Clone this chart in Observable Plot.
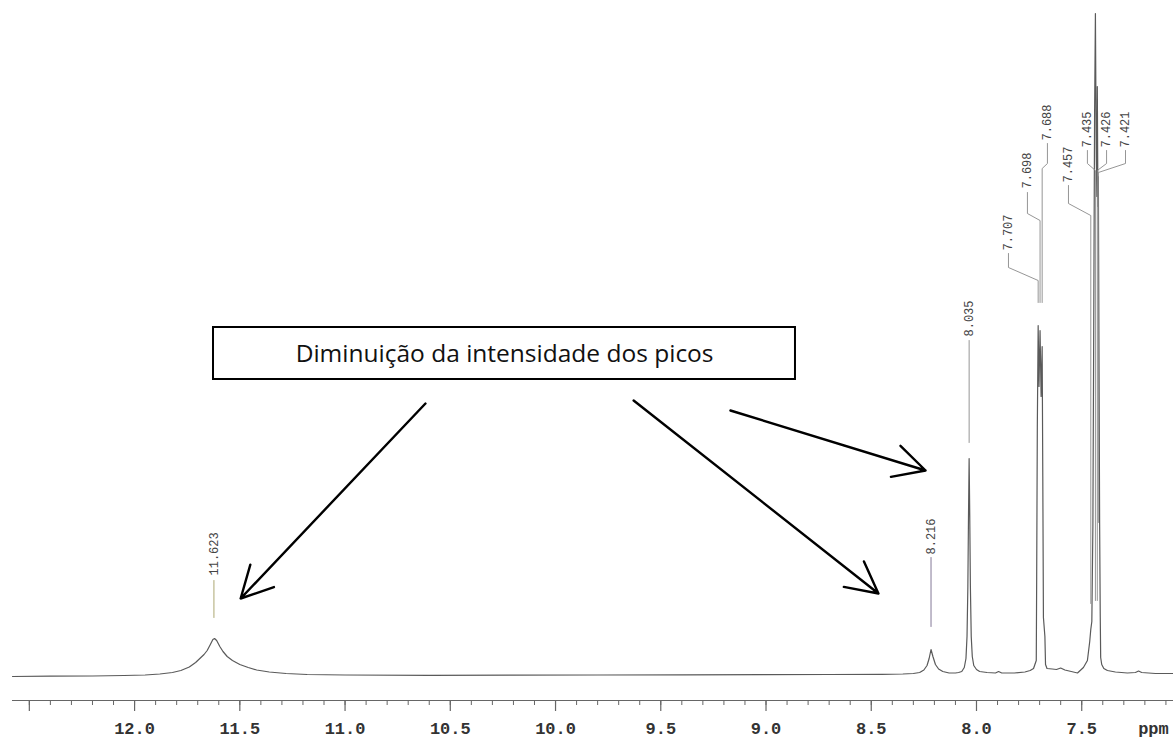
<!DOCTYPE html>
<html>
<head>
<meta charset="utf-8">
<script src="https://cdn.jsdelivr.net/npm/d3@7"></script>
<script src="https://cdn.jsdelivr.net/npm/@observablehq/plot@0.6"></script>
<style>
  html, body { margin: 0; padding: 0; background: #ffffff; }
  #chart svg { display: block; }
</style>
</head>
<body>
<div id="chart"></div>
<script>
// ---- Spectrum trace (chemical shift in ppm, intensity) ----
const specPpm = [
  12.58, 12.40, 12.20, 12.05, 11.95, 11.88, 11.82, 11.78, 11.74, 11.71, 11.69, 11.67, 11.655, 11.64, 11.628, 11.62,
  11.61, 11.595, 11.58, 11.56, 11.535, 11.50, 11.46, 11.42, 11.36, 11.28, 11.18, 11.00, 10.60, 10.20, 9.80, 9.40,
  9.00, 8.70, 8.45, 8.35, 8.30, 8.27, 8.25, 8.235, 8.225, 8.216, 8.207, 8.195, 8.18, 8.16, 8.13, 8.10,
  8.085, 8.07, 8.058, 8.05, 8.045, 8.041, 8.038, 8.035, 8.032, 8.029, 8.025, 8.02, 8.013, 8.00, 7.985, 7.95,
  7.91, 7.895, 7.88, 7.82, 7.77, 7.745, 7.729, 7.716, 7.714, 7.711, 7.707, 7.703, 7.698, 7.693, 7.688, 7.685,
  7.682, 7.675, 7.672, 7.665, 7.64, 7.62, 7.60, 7.58, 7.55, 7.52, 7.492, 7.473, 7.462, 7.457, 7.452, 7.447,
  7.443, 7.439, 7.435, 7.431, 7.428, 7.426, 7.423, 7.421, 7.418, 7.415, 7.412, 7.410, 7.405, 7.395, 7.378, 7.34,
  7.283, 7.245, 7.23, 7.215, 7.15, 7.064
];
const specIntensity = [
  0, 0.3, 0.5, 1, 1.5, 2.5, 4, 6, 9.5, 14, 18, 22, 26, 32, 37, 38,
  36, 30, 25, 20, 16, 12, 9, 6.5, 4.5, 3, 2, 1.5, 1.2, 1.3, 1.5, 1.6,
  1.8, 2, 2.2, 2.5, 3, 4, 6.5, 11, 18, 27, 20, 12, 7.5, 5, 3.5, 3.5,
  4, 5, 9, 18, 40, 90, 160, 218, 160, 90, 40, 20, 11, 7, 5, 4,
  3.5, 5, 3.5, 3.5, 4.5, 6, 8, 16, 100, 250, 351, 290, 346, 280, 330, 200,
  59, 40, 12, 8, 7.5, 7, 8.5, 6.5, 5, 3.5, 9, 16, 35, 47, 55, 150,
  350, 560, 663, 520, 480, 590, 470, 500, 320, 154, 60, 19, 12, 8, 6, 4.5,
  3.5, 4, 5.5, 4, 3, 3
];

// ---- Peak labels ----
const peakLabels = ["11.623", "8.216", "8.035", "7.707", "7.698", "7.688", "7.457", "7.435", "7.426", "7.421"];
const peakValues = [11.623, 8.216, 8.035, 7.707, 7.698, 7.688, 7.457, 7.435, 7.426, 7.421];

// ---- Axis ticks ----
const majorTicks = [12.5, 12.0, 11.5, 11.0, 10.5, 10.0, 9.5, 9.0, 8.5, 8.0, 7.5];
const minorTicks = d3.range(71, 126).map(i => i / 10);
const tickLabelValues = [12.0, 11.5, 11.0, 10.5, 10.0, 9.5, 9.0, 8.5, 8.0, 7.5];
const tickLabels = ["12.0", "11.5", "11.0", "10.5", "10.0", "9.5", "9.0", "8.5", "8.0", "7.5"];
const unitLabel = "ppm";

// ---- Annotation ----
const noteText = "Diminuição da intensidade dos picos";

// ---------------- layout (annotation anchors in data units) ----------------
const labelLayout = [
  {tx: 11.623, ty: 101, l0: 96,  k1: null, k2: null, end: 59},
  {tx: 8.216,  ty: 122, l0: 119, k1: null, k2: null, end: 50},
  {tx: 8.035,  ty: 340, l0: 336, k1: null, k2: null, end: 234},
  {tx: 7.848,  ty: 426, l0: 423, k1: 409, k2: 396, end: 374},
  {tx: 7.758,  ty: 488, l0: 484, k1: 463, k2: 456, end: 374},
  {tx: 7.663,  ty: 536, l0: 533, k1: 513, k2: 508, end: 374},
  {tx: 7.563,  ty: 494, l0: 491, k1: 473, k2: 461, end: 73},
  {tx: 7.473,  ty: 529, l0: 526, k1: 513, k2: 506, end: 76},
  {tx: 7.382,  ty: 529, l0: 526, k1: 513, k2: 506, end: 76},
  {tx: 7.292,  ty: 529, l0: 526, k1: 513, k2: 504, end: 154}
];
const leaderColors = ["#a39d62", "#75688a", "#8a8a8a", "#8a8a8a", "#8a8a8a", "#8a8a8a", "#8a8a8a", "#8a8a8a", "#8a8a8a", "#8a8a8a"];

const spectrum = specPpm.map((p, i) => ({ppm: p, v: specIntensity[i]}));

const labelData = peakLabels.map((t, i) => ({label: t, tx: labelLayout[i].tx, ty: labelLayout[i].ty}));
const leaders = [];
peakLabels.forEach((t, i) => {
  const L = labelLayout[i];
  const pts = L.k1 == null
    ? [[L.tx, L.l0], [L.tx, L.end]]
    : [[L.tx, L.l0], [L.tx, L.k1], [peakValues[i], L.k2], [peakValues[i], L.end]];
  pts.forEach(([x, y]) => leaders.push({label: t, x, y, c: leaderColors[i]}));
});

const arrows = [
  {x1: 10.618, y1: 273, x2: 11.496, y2: 78},
  {x1: 9.629, y1: 276, x2: 8.466, y2: 83},
  {x1: 9.169, y1: 266, x2: 8.242, y2: 206}
];
const noteBox = [{x1: 11.625, x2: 8.860, y1: 297, y2: 349}];
const noteAnchor = [{x: 10.242, y: 322, text: noteText}];
const unitAnchor = [{x: 7.232, y: -57, text: unitLabel}];

const mono = "'Liberation Mono', 'DejaVu Sans Mono', monospace";

const chart = Plot.plot({
  width: 1173,
  height: 738,
  marginLeft: 0,
  marginRight: 0,
  marginTop: 0,
  marginBottom: 38,
  x: {domain: [12.637, 7.064], axis: null},
  y: {domain: [-24, 676], axis: null},
  style: {background: "#ffffff"},
  marks: [
    // axis
    Plot.ruleY([-24], {x1: 12.58, x2: 7.064, stroke: "#666", strokeWidth: 1.2}),
    Plot.ruleX(minorTicks, {x: d => d, y1: -24, y2: -29, stroke: "#666", strokeWidth: 1}),
    Plot.ruleX(majorTicks, {x: d => d, y1: -24, y2: -35, stroke: "#666", strokeWidth: 1.2}),
    Plot.text(tickLabelValues, {x: d => d, y: -57, text: (d, i) => tickLabels[i], lineAnchor: "bottom",
      fontFamily: mono, fontSize: 17, fontWeight: "bold", fill: "#333"}),
    Plot.text(unitAnchor, {x: "x", y: "y", text: "text", textAnchor: "start", lineAnchor: "bottom",
      fontFamily: mono, fontSize: 17, fontWeight: "bold", fill: "#333"}),
    // spectrum
    Plot.line(spectrum, {x: "ppm", y: "v", stroke: "#5a5a5a", strokeWidth: 1.2}),
    // peak leaders and labels
    Plot.line(leaders, {x: "x", y: "y", z: "label", stroke: "c", strokeWidth: 0.9}),
    Plot.text(labelData, {x: "tx", y: "ty", text: "label", rotate: -90, textAnchor: "start", lineAnchor: "middle",
      fontFamily: mono, fontSize: 12, fill: "#444"}),
    // annotation
    Plot.rect(noteBox, {x1: "x1", x2: "x2", y1: "y1", y2: "y2", fill: "#ffffff", stroke: "#000", strokeWidth: 2}),
    Plot.text(noteAnchor, {x: "x", y: "y", text: "text", fontFamily: "'Open Sans', 'Noto Sans', sans-serif",
      fontSize: 24.5, fill: "#111"}),
    Plot.arrow(arrows, {x1: "x1", y1: "y1", x2: "x2", y2: "y2", stroke: "#000", strokeWidth: 2.4,
      headLength: 22, headAngle: 55})
  ]
});
document.getElementById("chart").appendChild(chart);
</script>
</body>
</html>
